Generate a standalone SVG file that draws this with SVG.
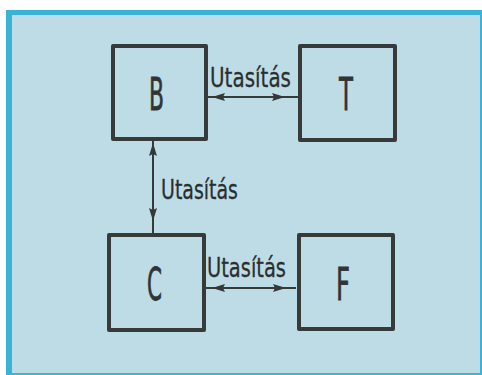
<svg xmlns="http://www.w3.org/2000/svg" width="482" height="375" viewBox="0 0 482 375">
<style>
.box{fill:none;stroke:#363a3a;stroke-width:4;stroke-linejoin:round}
.ltr{font-family:"DejaVu Sans","Liberation Sans",sans-serif;font-size:44px;fill:#303434;stroke:#303434;stroke-width:0.8;text-anchor:start}
.lbl{font-family:"DejaVu Sans","Liberation Sans",sans-serif;font-size:26px;fill:#2a2e2e;stroke:#2a2e2e;stroke-width:0.3}
.con{stroke:#363a3a;stroke-width:2;fill:none}
.ah{fill:#343838}
</style>
<defs>
<path id="ah" d="M0,0 L-13,-4 L-11,0 L-13,4 Z"/>
</defs>
<rect x="0" y="0" width="482" height="375" fill="#ffffff"/>
<rect x="6" y="10" width="476" height="365" fill="#3bb3d6"/>
<rect x="12" y="15" width="468" height="358" fill="#bedce6"/>
<g id="connectors">
<line class="con" x1="207" y1="97" x2="298" y2="97"/>
<use href="#ah" class="ah" transform="translate(212,97) rotate(180)"/>
<use href="#ah" class="ah" transform="translate(285,97)"/>
<line class="con" x1="153" y1="140" x2="153" y2="233"/>
<use href="#ah" class="ah" transform="translate(153,143) rotate(-90)"/>
<use href="#ah" class="ah" transform="translate(153,221) rotate(90)"/>
<line class="con" x1="205" y1="288" x2="296" y2="288"/>
<use href="#ah" class="ah" transform="translate(212,288) rotate(180)"/>
<use href="#ah" class="ah" transform="translate(286,288)"/>
<text class="lbl" x="210" y="87" textLength="81" lengthAdjust="spacingAndGlyphs">Utasítás</text>
<text class="lbl" x="161" y="199" textLength="77" lengthAdjust="spacingAndGlyphs">Utasítás</text>
<text class="lbl" x="207" y="277" textLength="79" lengthAdjust="spacingAndGlyphs">Utasítás</text>
</g>
<g id="node-B">
<rect class="box" x="113" y="46" width="93" height="93"/>
<text class="ltr" x="149" y="110" textLength="15" lengthAdjust="spacingAndGlyphs">B</text>
</g>
<g id="node-T">
<rect class="box" x="300" y="46" width="95" height="94"/>
<text class="ltr" x="339" y="110" textLength="14" lengthAdjust="spacingAndGlyphs">T</text>
</g>
<g id="node-C">
<rect class="box" x="109" y="235" width="95" height="95"/>
<text class="ltr" x="147" y="300" textLength="15" lengthAdjust="spacingAndGlyphs">C</text>
</g>
<g id="node-F">
<rect class="box" x="299" y="235" width="94" height="94"/>
<text class="ltr" x="336" y="300" textLength="14" lengthAdjust="spacingAndGlyphs">F</text>
</g>
</svg>
